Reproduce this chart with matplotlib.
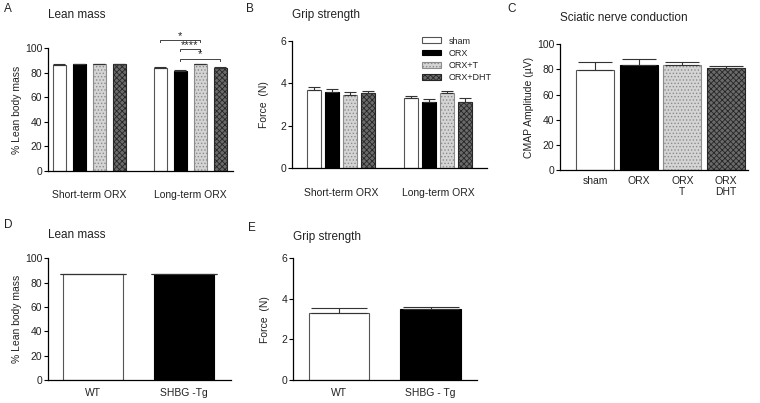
import matplotlib
matplotlib.use('Agg')
import matplotlib.pyplot as plt
import numpy as np
from matplotlib.patches import Patch

plt.rcParams['font.family'] = ['Liberation Sans', 'DejaVu Sans']
plt.rcParams['hatch.linewidth'] = 0.6

# data
groups = ['sham', 'ORX', 'ORX+T', 'ORX+DHT']
periods = ['Short-term ORX', 'Long-term ORX']

lean_short = [86.5, 87.0, 87.0, 87.0]
lean_short_err = [0.5, 0.5, 0.4, 0.4]
lean_long = [84.0, 81.5, 87.0, 84.0]
lean_long_err = [0.6, 0.5, 0.4, 0.5]

grip_short = [3.68, 3.57, 3.45, 3.52]
grip_short_err = [0.13, 0.14, 0.12, 0.11]
grip_long = [3.29, 3.13, 3.52, 3.13]
grip_long_err = [0.12, 0.11, 0.12, 0.16]

cmap_labels = ['sham', 'ORX', 'ORX\nT', 'ORX\nDHT']
cmap_amp = [79.6, 83.5, 83.5, 80.9]
cmap_err = [6.1, 4.8, 2.7, 2.1]

tg_lean_labels = ['WT', 'SHBG -Tg']
tg_lean = [87.0, 87.0]
tg_lean_err = [0.4, 0.5]
tg_grip_labels = ['WT', 'SHBG - Tg']
tg_grip = [3.29, 3.49]
tg_grip_err = [0.24, 0.10]

# significance in long-term lean mass: (bar i, bar j, label, height)
sig_pairs = [(0, 2, '*', 106.8), (1, 2, '****', 99.4), (1, 3, '*', 91.3)]

styles = [dict(facecolor='white', edgecolor='#555555'),
          dict(facecolor='black', edgecolor='black'),
          dict(facecolor='#d4d4d4', edgecolor='#8c8c8c', hatch='.....'),
          dict(facecolor='#6a6a6a', edgecolor='#262626', hatch='xxxxxx')]

txt = '#222222'
W, H = 760, 403


def box(left, top, right, bottom):
    return [left / W, 1 - bottom / H, (right - left) / W, (bottom - top) / H]


def style_ax(ax, ymax, step, pad):
    for s in ['top', 'right']:
        ax.spines[s].set_visible(False)
    for s in ['left', 'bottom']:
        ax.spines[s].set_linewidth(0.9)
    ax.set_ylim(0, ymax)
    ax.set_yticks(np.arange(0, ymax + step / 2, step))
    ax.tick_params(axis='y', length=3, width=0.8, labelsize=7.5, pad=1, labelcolor=txt)
    ax.tick_params(axis='x', length=0, labelsize=7.5, pad=pad, labelcolor=txt)


def bars(ax, x, vals, errs, width, stl, capsize):
    for xi, v, st in zip(x, vals, stl):
        ax.bar(xi, v, width=width, linewidth=0.8, **st)
    ax.errorbar(x, vals, yerr=[np.zeros(len(vals)), errs], fmt='none',
                ecolor='#333333', elinewidth=0.8, capsize=capsize, capthick=0.8)


fig = plt.figure(figsize=(7.6, 4.03), dpi=100)

# A
axA = fig.add_axes(box(48, 48.3, 233, 170.7))
xs = np.arange(4)
xl = xs + 5.05
bars(axA, xs, lean_short, lean_short_err, 0.65, styles, 4)
bars(axA, xl, lean_long, lean_long_err, 0.65, styles, 4)
axA.set_xlim(-0.55, 8.7)
style_ax(axA, 100, 20, 14)
axA.set_xticks([xs.mean(), xl.mean()], periods)
axA.set_ylabel('% Lean body mass', fontsize=7.5, color=txt, labelpad=2)
for i, j, lab, h in sig_pairs:
    axA.plot([xl[i], xl[i], xl[j], xl[j]], [h - 2, h, h, h - 2], color='#444444',
             lw=0.7, clip_on=False)
    axA.text((xl[i] + xl[j]) / 2, h - 0.5, lab, ha='center', va='bottom',
             fontsize=8, color=txt)

# B
axB = fig.add_axes(box(292, 40.7, 487, 168.3))
xs = np.arange(4)
xl = xs + 5.39
bars(axB, xs, grip_short, grip_short_err, 0.78, styles, 4)
bars(axB, xl, grip_long, grip_long_err, 0.78, styles, 4)
axB.set_xlim(-1.22, 9.61)
style_ax(axB, 6, 2, 14)
axB.set_xticks([xs.mean(), xl.mean()], periods)
axB.set_ylabel('Force  (N)', fontsize=7.5, color=txt, labelpad=8)
handles = [Patch(linewidth=0.8, **st) for st in styles]
fig.legend(handles, groups, loc='upper left', bbox_to_anchor=(417 / W, 1 - 32 / H),
           frameon=False, fontsize=6.5, handlelength=2.2, handleheight=0.6,
           labelspacing=0.35, handletextpad=0.8, borderpad=0, labelcolor=txt)

# C
axC = fig.add_axes(box(560, 44.3, 748, 170))
xc = np.arange(4)
bars(axC, xc, cmap_amp, cmap_err, 0.87, styles, 12)
axC.set_xlim(-0.8, 3.5)
style_ax(axC, 100, 20, 4)
axC.set_xticks(xc, cmap_labels)
axC.set_ylabel('CMAP Amplitude (\u00b5V)', fontsize=7.5, color=txt, labelpad=2)

# D
axD = fig.add_axes(box(48, 258.3, 231, 380))
xd = np.arange(2)
bars(axD, xd, tg_lean, tg_lean_err, 0.66, styles[:2], 24)
axD.set_xlim(-0.495, 1.516)
style_ax(axD, 100, 20, 6)
axD.set_xticks(xd, tg_lean_labels)
axD.set_ylabel('% Lean body mass', fontsize=7.5, color=txt, labelpad=2)

# E
axE = fig.add_axes(box(293, 258.3, 477, 380))
xe = np.arange(2)
bars(axE, xe, tg_grip, tg_grip_err, 0.66, styles[:2], 20)
axE.set_xlim(-0.503, 1.508)
style_ax(axE, 6, 2, 6)
axE.set_xticks(xe, tg_grip_labels)
axE.set_ylabel('Force  (N)', fontsize=7.5, color=txt, labelpad=8)

# titles and panel letters
titles = [('Lean mass', 48, 9), ('Grip strength', 292, 9),
          ('Sciatic nerve conduction', 560, 12), ('Lean mass', 48, 229),
          ('Grip strength', 293, 231)]
for t, x, y in titles:
    fig.text(x / W, 1 - y / H, t, fontsize=8.5, color=txt, va='top', ha='left')

letters = [('A', 4, 3), ('B', 246, 3), ('C', 507, 3), ('D', 4, 219), ('E', 248, 222)]
for t, x, y in letters:
    fig.text(x / W, 1 - y / H, t, fontsize=8.5, color=txt, va='top', ha='left')

fig.savefig('out.png', dpi=100)
